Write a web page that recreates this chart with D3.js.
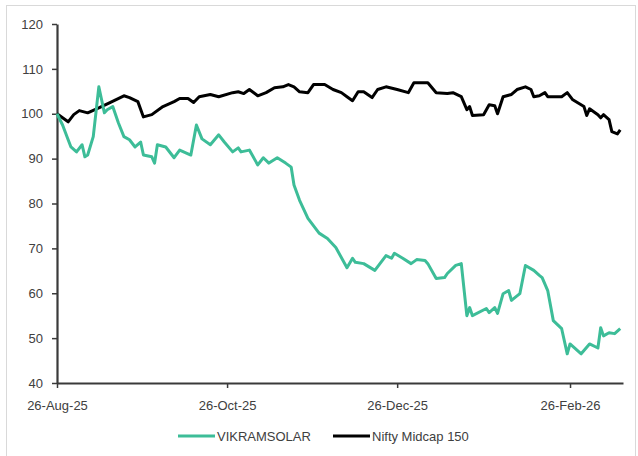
<!DOCTYPE html>
<html>
<head>
<meta charset="utf-8">
<script src="https://cdn.jsdelivr.net/npm/d3@7"></script>
<style>
    body { margin: 0; background: #fff; }
    #chart { width: 638px; height: 456px; }
    .axis text { font-family: "Liberation Sans", Arial, sans-serif; font-size: 13px; fill: #404040; }
</style>
</head>
<body>
<div id="chart"></div>
<script>
// series (indexed to 100 on 26-Aug-25)
const vikramDates = ["2025-08-26","2025-08-28","2025-08-30","2025-08-31","2025-09-02","2025-09-04","2025-09-05","2025-09-06",
    "2025-09-08","2025-09-10","2025-09-11","2025-09-12","2025-09-13","2025-09-15","2025-09-17","2025-09-19","2025-09-21",
    "2025-09-23","2025-09-25","2025-09-26","2025-09-29","2025-09-30","2025-10-01","2025-10-04","2025-10-07","2025-10-09",
    "2025-10-13","2025-10-15","2025-10-17","2025-10-20","2025-10-23","2025-10-25","2025-10-28","2025-10-30","2025-10-31",
    "2025-11-03","2025-11-06","2025-11-08","2025-11-10","2025-11-13","2025-11-16","2025-11-18","2025-11-19","2025-11-21",
    "2025-11-24","2025-11-28","2025-12-01","2025-12-04","2025-12-08","2025-12-10","2025-12-11","2025-12-14","2025-12-18",
    "2025-12-22","2025-12-24","2025-12-25","2025-12-28","2025-12-31","2026-01-02","2026-01-05","2026-01-06","2026-01-09",
    "2026-01-12","2026-01-13","2026-01-16","2026-01-18","2026-01-20","2026-01-21","2026-01-22","2026-01-27","2026-01-28",
    "2026-01-30","2026-01-31","2026-02-02","2026-02-04","2026-02-05","2026-02-08","2026-02-10","2026-02-13","2026-02-15",
    "2026-02-16","2026-02-18","2026-02-20","2026-02-23","2026-02-25","2026-02-26","2026-03-02","2026-03-05","2026-03-08",
    "2026-03-09","2026-03-10","2026-03-12","2026-03-14","2026-03-16"];
const vikramValues = [100,97.5,94.2,92.6,91.5,93.1,90.4,90.8,
    94.9,106.0,103.1,100.2,100.9,101.6,98.0,94.9,94.2,
    92.6,93.7,90.8,90.4,89.0,93.1,92.6,90.2,91.9,
    90.8,97.5,94.4,93.1,95.3,93.7,91.5,92.4,91.5,
    91.9,88.6,90.2,89.0,90.2,89.0,88.1,84.1,80.7,
    76.7,73.4,72.2,70.2,65.7,67.8,66.9,66.6,65.1,
    68.4,67.8,68.9,67.8,66.6,67.5,67.3,66.6,63.3,
    63.5,64.4,66.2,66.6,55.0,56.8,55.0,56.6,55.7,
    56.8,55.5,59.9,60.6,58.4,59.9,66.2,65.1,64.0,
    63.5,60.6,53.9,52.1,46.5,48.7,46.5,48.7,47.8,
    52.3,50.5,51.2,51.0,52.1];

const niftyDates = ["2025-08-26","2025-08-30","2025-09-01","2025-09-03","2025-09-06","2025-09-10","2025-09-14","2025-09-19",
    "2025-09-21","2025-09-24","2025-09-26","2025-09-29","2025-10-03","2025-10-07","2025-10-09","2025-10-12","2025-10-14",
    "2025-10-16","2025-10-20","2025-10-23","2025-10-28","2025-10-30","2025-11-01","2025-11-03","2025-11-06","2025-11-09",
    "2025-11-12","2025-11-15","2025-11-17","2025-11-19","2025-11-21","2025-11-24","2025-11-26","2025-11-30","2025-12-03",
    "2025-12-06","2025-12-08","2025-12-10","2025-12-12","2025-12-14","2025-12-17","2025-12-19","2025-12-22","2025-12-26",
    "2025-12-30","2026-01-01","2026-01-06","2026-01-09","2026-01-13","2026-01-15","2026-01-18","2026-01-20","2026-01-21",
    "2026-01-22","2026-01-26","2026-01-28","2026-01-30","2026-01-31","2026-02-02","2026-02-05","2026-02-07","2026-02-10",
    "2026-02-12","2026-02-13","2026-02-15","2026-02-17","2026-02-18","2026-02-23","2026-02-25","2026-02-27","2026-03-03",
    "2026-03-04","2026-03-05","2026-03-08","2026-03-09","2026-03-10","2026-03-12","2026-03-13","2026-03-15","2026-03-16"];
const niftyValues = [100,98.2,99.8,100.7,100.2,101.3,102.5,104.0,
    103.6,102.7,99.3,99.8,101.6,102.7,103.4,103.4,102.5,
    103.8,104.3,103.8,104.7,104.9,104.5,105.4,104.0,104.7,
    105.8,106.0,106.5,106.0,104.9,104.7,106.5,106.5,105.4,
    104.7,103.8,102.9,104.9,104.9,103.6,105.4,106.0,105.4,
    104.7,106.9,106.9,104.7,104.5,104.7,103.8,100.9,101.6,
    99.6,99.8,102.0,101.8,100.0,103.8,104.3,105.4,106.0,
    105.4,103.8,104.0,104.7,103.8,103.8,104.7,103.1,101.6,
    99.6,101.1,99.8,99.1,99.8,98.7,96.0,95.5,96.4];

const seriesNames = ["VIKRAMSOLAR", "Nifty Midcap 150"];
const seriesColors = ["#3dbd98", "#000000"];
const yTicks = [40, 50, 60, 70, 80, 90, 100, 110, 120];
const xTickDates = ["2025-08-26", "2025-10-26", "2025-12-26", "2026-02-26"];
const xDomain = ["2025-08-26", "2026-03-17"];

const parseDate = d3.timeParse("%Y-%m-%d");
const formatDate = d3.timeFormat("%d-%b-%y");

const svg = d3.select("#chart").append("svg")
    .attr("width", 638)
    .attr("height", 456);

// light frame round the chart area
svg.append("rect")
    .attr("x", 6.5).attr("y", 5.5)
    .attr("width", 629).attr("height", 460)
    .attr("fill", "none")
    .attr("stroke", "#d9d9d9");

const x = d3.scaleTime()
    .domain(xDomain.map(parseDate))
    .range([57, 623]);
const y = d3.scaleLinear()
    .domain([40, 120])
    .range([383, 24]);

// axes
const yAxis = svg.append("g")
    .attr("class", "axis")
    .attr("transform", "translate(57,0)")
    .call(d3.axisLeft(y).tickValues(yTicks).tickSize(5).tickPadding(9).tickSizeOuter(0));
const xAxis = svg.append("g")
    .attr("class", "axis")
    .attr("transform", "translate(0,383)")
    .call(d3.axisBottom(x).tickValues(xTickDates.map(parseDate)).tickFormat(formatDate)
        .tickSize(5).tickPadding(13).tickSizeOuter(0));

svg.selectAll(".axis path").attr("stroke", "#3a3a3a").attr("stroke-width", 2.2);
svg.selectAll(".axis line").attr("stroke", "#3a3a3a").attr("stroke-width", 1.5);

// lines
const drawLine = d3.line()
    .x(d => x(d.date))
    .y(d => y(d.value));

const series = [
    vikramDates.map((d, i) => ({date: parseDate(d), value: vikramValues[i]})),
    niftyDates.map((d, i) => ({date: parseDate(d), value: niftyValues[i]}))
];

// draw nifty first so the green line sits above it at the start
[1, 0].forEach(i => {
    svg.append("path")
        .datum(series[i])
        .attr("fill", "none")
        .attr("stroke", seriesColors[i])
        .attr("stroke-width", 3)
        .attr("stroke-linejoin", "round")
        .attr("d", drawLine);
});

// legend
const legend = svg.append("g")
    .attr("class", "axis")
    .attr("transform", "translate(178,436)");
const legendX = [0, 155];
seriesNames.forEach((name, i) => {
    legend.append("line")
        .attr("x1", legendX[i]).attr("x2", legendX[i] + 37)
        .attr("y1", 0).attr("y2", 0)
        .attr("stroke", seriesColors[i])
        .attr("stroke-width", 3);
    legend.append("text")
        .attr("x", legendX[i] + 39)
        .attr("y", 0)
        .attr("dy", "0.35em")
        .text(name);
});
</script>
</body>
</html>
